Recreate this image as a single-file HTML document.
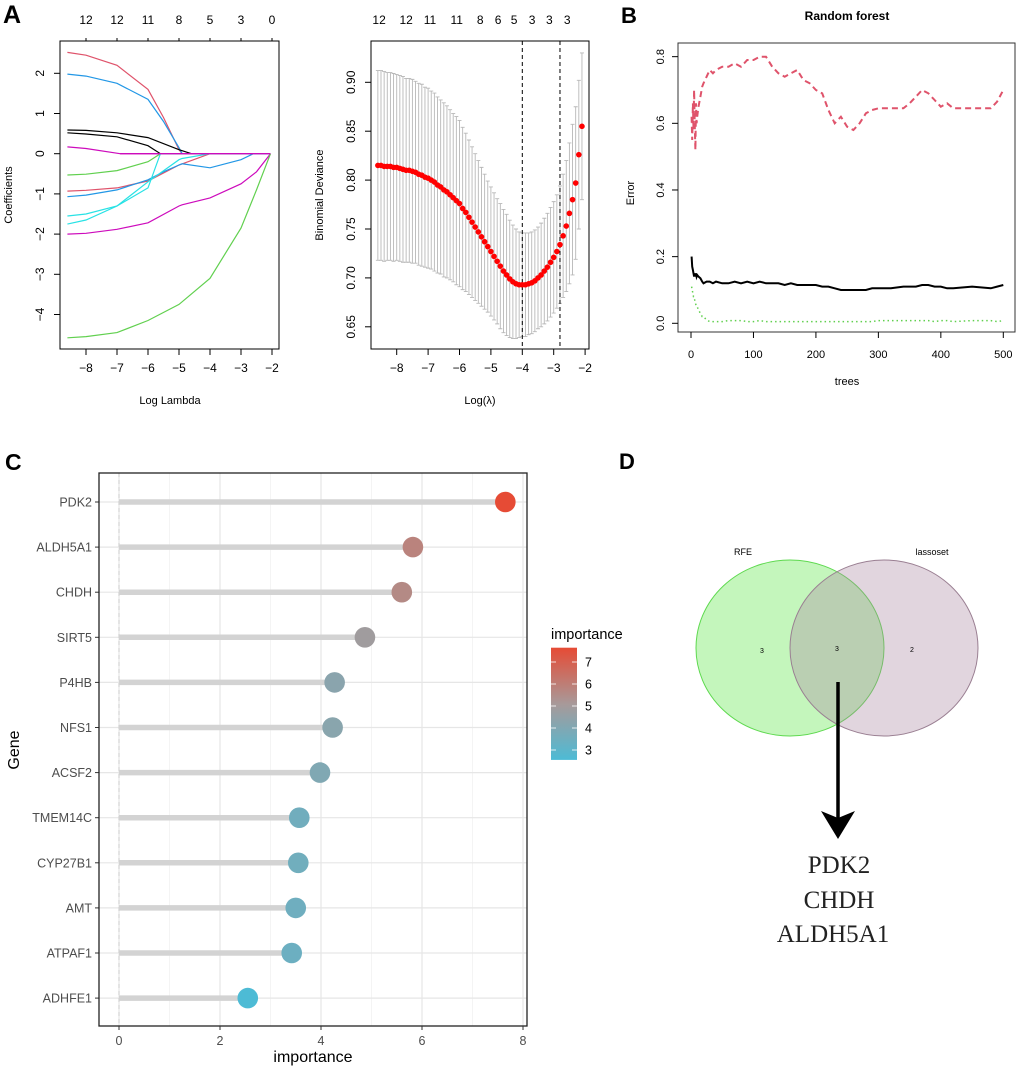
<!DOCTYPE html>
<html><head><meta charset="utf-8">
<style>
html,body{margin:0;padding:0;background:#fff;}
svg{display:block;font-family:"Liberation Sans",sans-serif;}
</style></head>
<body>
<svg id="fig" width="1020" height="1069" viewBox="0 0 1020 1069">
<text x="3" y="23" font-size="25" font-weight="bold">A</text>
<text x="621" y="23" font-size="22" font-weight="bold">B</text>
<text x="5" y="470" font-size="23" font-weight="bold">C</text>
<text x="619" y="469" font-size="22" font-weight="bold">D</text>
<g id="a1"></g>
<g id="a2"></g>
<g id="b"></g>
<g id="c"></g>
<g id="d">
  <ellipse cx="790" cy="648" rx="94" ry="88" fill="#7CEB6A" fill-opacity="0.45" stroke="#5ed94f" stroke-width="1"/>
  <ellipse cx="884" cy="648" rx="94" ry="88" fill="#a888a0" fill-opacity="0.35" stroke="#9a7f92" stroke-width="1"/>
  <text x="743" y="555" font-size="9" text-anchor="middle">RFE</text>
  <text x="932" y="555" font-size="9" text-anchor="middle">lassoset</text>
  <text x="762" y="653" font-size="7" text-anchor="middle">3</text>
  <text x="837" y="651" font-size="7" text-anchor="middle">3</text>
  <text x="912" y="652" font-size="7" text-anchor="middle">2</text>
  <line x1="838" y1="682" x2="838" y2="820" stroke="#000" stroke-width="3.5"/>
  <polygon points="821,811 838,818 855,811 838,839" fill="#000"/>
  <text x="839" y="873" font-size="25" text-anchor="middle" font-family="Liberation Serif,serif" fill="#222">PDK2</text>
  <text x="839" y="908" font-size="25" text-anchor="middle" font-family="Liberation Serif,serif" fill="#222">CHDH</text>
  <text x="833" y="942" font-size="25" text-anchor="middle" font-family="Liberation Serif,serif" fill="#222">ALDH5A1</text>
</g>
</svg>
<script>
// ---------- Panel A1 data: lasso coefficient paths ----------
const lassoPathColors = ["#DF536B","#2297E6","#000000","#000000","#CD0BBC","#61D04F","#DF536B","#2297E6","#28E2E5","#28E2E5","#CD0BBC","#61D04F"];
const lassoPathX = [
 [-8.6,-8,-7,-6,-5.5,-5,-4.9,-2.05],
 [-8.6,-8,-7,-6,-5.5,-5,-4.9,-2.05],
 [-8.6,-8,-7,-6,-5,-4.6,-2.05],
 [-8.6,-8,-7,-6,-5.6,-2.05],
 [-8.6,-8,-6.9,-2.05],
 [-8.6,-8,-7,-6,-5.6,-2.05],
 [-8.6,-8,-7,-6,-5,-4,-2.05],
 [-8.6,-8,-7,-6,-5.5,-5,-4.9,-4,-3,-2.6,-2.05],
 [-8.6,-8,-7,-6,-5.6,-2.05],
 [-8.6,-8,-7,-6,-5,-4.9,-4,-2.05],
 [-8.6,-8,-7,-6,-5,-4.9,-4,-3,-2.5,-2.05],
 [-8.6,-8,-7,-6,-5,-4,-3,-2.5,-2.05]
];
const lassoPathY = [
 [2.52,2.45,2.2,1.6,0.9,0.1,0,0],
 [1.98,1.93,1.75,1.35,0.8,0.15,0,0],
 [0.59,0.58,0.52,0.4,0.1,0,0],
 [0.52,0.49,0.42,0.2,0,0],
 [0.17,0.13,0,0],
 [-0.53,-0.51,-0.42,-0.2,0,0],
 [-0.93,-0.91,-0.85,-0.68,-0.28,0,0],
 [-1.07,-1.03,-0.9,-0.65,-0.45,-0.28,-0.25,-0.35,-0.15,0,0],
 [-1.55,-1.5,-1.3,-0.85,0,0],
 [-1.75,-1.65,-1.3,-0.7,-0.15,-0.12,0,0],
 [-2.0,-1.98,-1.88,-1.72,-1.3,-1.27,-1.1,-0.75,-0.45,0],
 [-4.58,-4.55,-4.45,-4.15,-3.75,-3.1,-1.85,-0.9,0]
];
const a1XTicks = [-8,-7,-6,-5,-4,-3,-2];
const a1YTicks = [-4,-3,-2,-1,0,1,2];
const a1TopLabels = ["12","12","11","8","5","3","0"];

// ---------- Panel A2 data: CV curve ----------
const cvStart = -8.6, cvStep = 0.1;
const cvMean = [.815,.815,.814,.814,.814,.813,.813,.812,.811,.810,.810,.809,.808,.806,.805,.803,.802,.800,.798,.795,.793,.790,.788,.785,.782,.779,.776,.771,.767,.762,.757,.752,.747,.742,.737,.732,.727,.722,.717,.712,.707,.703,.699,.696,.694,.693,.693,.693,.694,.695,.697,.700,.703,.707,.711,.716,.721,.727,.734,.743,.753,.766,.780,.797,.826,.855];
const cvSd = [.097,.097,.097,.096,.096,.096,.095,.095,.095,.094,.094,.094,.093,.093,.093,.092,.092,.091,.091,.090,.089,.089,.088,.087,.086,.086,.085,.083,.081,.079,.077,.075,.073,.071,.069,.067,.066,.065,.064,.064,.063,.062,.060,.058,.056,.054,.053,.053,.052,.052,.052,.052,.053,.054,.055,.056,.057,.058,.060,.063,.067,.072,.077,.078,.076,.075];
const cvVLines = [-4.0,-2.8];
const a2XTicks = [-8,-7,-6,-5,-4,-3,-2];
const a2YTicks = [0.65,0.70,0.75,0.80,0.85,0.90];
const a2TopPos = [-8.56,-7.7,-6.94,-6.09,-5.34,-4.77,-4.26,-3.69,-3.14,-2.57];
const a2TopLabels = ["12","12","11","11","8","6","5","3","3","3"];

// ---------- Panel B data: random forest error ----------
const rfTrees = [1,2,3,4,5,6,7,8,9,10,12,15,18,20,25,30,35,40,50,60,70,80,90,100,110,120,130,140,150,160,170,180,190,200,210,220,230,240,250,260,270,280,290,300,320,340,350,360,370,380,390,400,410,420,450,480,490,500];
const rfRed = [0.62,0.55,0.66,0.58,0.7,0.6,0.52,0.66,0.6,0.62,0.65,0.68,0.71,0.72,0.74,0.76,0.75,0.76,0.77,0.77,0.78,0.77,0.79,0.79,0.8,0.8,0.77,0.75,0.74,0.75,0.76,0.73,0.72,0.7,0.69,0.64,0.6,0.62,0.59,0.58,0.6,0.63,0.64,0.645,0.645,0.645,0.66,0.68,0.7,0.69,0.67,0.65,0.66,0.645,0.645,0.645,0.665,0.7];
const rfOob = [0.2,0.17,0.16,0.15,0.14,0.15,0.14,0.15,0.14,0.145,0.14,0.135,0.125,0.12,0.125,0.125,0.12,0.125,0.12,0.12,0.125,0.12,0.125,0.12,0.125,0.12,0.12,0.12,0.115,0.12,0.115,0.115,0.115,0.115,0.11,0.11,0.105,0.1,0.1,0.1,0.1,0.1,0.105,0.105,0.105,0.11,0.11,0.11,0.115,0.115,0.11,0.11,0.105,0.105,0.11,0.105,0.11,0.115];
const rfGreen = [0.11,0.1,0.09,0.08,0.08,0.07,0.06,0.055,0.05,0.05,0.04,0.03,0.02,0.02,0.01,0.005,0.005,0.005,0.005,0.008,0.008,0.008,0.005,0.005,0.008,0.005,0.005,0.005,0.005,0.005,0.005,0.005,0.005,0.005,0.005,0.005,0.005,0.005,0.005,0.005,0.005,0.005,0.005,0.008,0.008,0.008,0.008,0.008,0.008,0.008,0.005,0.008,0.008,0.005,0.008,0.008,0.005,0.008];
const bXTicks = [0,100,200,300,400,500];
const bYTicks = [0,0.2,0.4,0.6,0.8];

// ---------- Panel C data: gene importance ----------
const genes = ["PDK2","ALDH5A1","CHDH","SIRT5","P4HB","NFS1","ACSF2","TMEM14C","CYP27B1","AMT","ATPAF1","ADHFE1"];
const importance = [7.65,5.82,5.6,4.87,4.27,4.23,3.98,3.57,3.55,3.5,3.42,2.55];
const cXTicks = [0,2,4,6,8];
const legendTicks = [3,4,5,6,7];

const NS = "http://www.w3.org/2000/svg";
function mk(parent, tag, attrs){const e=document.createElementNS(NS,tag);for(const k in attrs)e.setAttribute(k,attrs[k]);parent.appendChild(e);return e;}
function txt(parent, x, y, s, size, extra){const e=mk(parent,"text",Object.assign({x:x,y:y,"font-size":size},extra||{}));e.textContent=s;return e;}

// ===== A1 =====
(function(){
 const g=document.getElementById("a1");
 const L=60,R=279,T=41,B=349;
 const sx=v=>86+(v+8)*31, sy=v=>153.7-v*40.2;
 lassoPathX.forEach((xs,i)=>{
  const d=xs.map((x,j)=>(j?"L":"M")+sx(x).toFixed(1)+","+sy(lassoPathY[i][j]).toFixed(1)).join(" ");
  const p=mk(g,"path",{d:d,fill:"none",stroke:lassoPathColors[i],"stroke-width":1.2});
  
  
 });
 const z=mk(g,"line",{x1:sx(-6.9),y1:sy(0),x2:sx(-2.05),y2:sy(0),stroke:"#CD0BBC","stroke-width":1.3});
 
 
 mk(g,"rect",{x:L,y:T,width:R-L,height:B-T,fill:"none",stroke:"#000","stroke-width":1});
 a1XTicks.forEach(v=>{
  mk(g,"line",{x1:sx(v),y1:B,x2:sx(v),y2:B+6,stroke:"#000"});
  const t=txt(g,sx(v),372,"\u2212"+Math.abs(v),12,{"text-anchor":"middle"});
  
  
  mk(g,"line",{x1:sx(v),y1:T,x2:sx(v),y2:T-3,stroke:"#000"});
 });
 a1TopLabels.forEach((s,i)=>{
  const t=txt(g,sx(a1XTicks[i]),24,s,12,{"text-anchor":"middle"});
  
  
 });
 a1YTicks.forEach(v=>{
  mk(g,"line",{x1:L,y1:sy(v),x2:L-6,y2:sy(v),stroke:"#000"});
  const s=(v<0?"\u2212":"")+Math.abs(v);
  const t=txt(g,44,sy(v),s,12,{"text-anchor":"middle",transform:`rotate(-90 44 ${sy(v)})`});
  
  
 });
 txt(g,170,404,"Log Lambda",11,{"text-anchor":"middle",});
 txt(g,12,195,"Coefficients",11,{"text-anchor":"middle",transform:"rotate(-90 12 195)",});
})();

// ===== A2 =====
(function(){
 const g=document.getElementById("a2");
 const L=371,R=589,T=41,B=349;
 const sx=v=>396.7+(v+8)*31.4, sy=v=>82.3+(0.90-v)/0.05*48.9;
 cvMean.forEach((m,i)=>{
  const x=sx(cvStart+i*cvStep), hi=sy(m+cvSd[i]), lo=sy(m-cvSd[i]);
  const e=mk(g,"path",{d:`M${x},${hi}L${x},${lo}M${x-2},${hi}L${x+2},${hi}M${x-2},${lo}L${x+2},${lo}`,stroke:"#b8b8b8","stroke-width":0.9,fill:"none"});
  
  
 });
 cvVLines.forEach(v=>{
  const l=mk(g,"line",{x1:sx(v),y1:T,x2:sx(v),y2:B,stroke:"#000","stroke-dasharray":"4,3","stroke-width":1});
  
  
 });
 cvMean.forEach((m,i)=>{
  const c=mk(g,"circle",{cx:sx(cvStart+i*cvStep),cy:sy(m),r:2.8,fill:"#ff0000"});
  
  
 });
 mk(g,"rect",{x:L,y:T,width:R-L,height:B-T,fill:"none",stroke:"#000","stroke-width":1});
 a2XTicks.forEach(v=>{
  mk(g,"line",{x1:sx(v),y1:B,x2:sx(v),y2:B+6,stroke:"#000"});
  const t=txt(g,sx(v),372,"\u2212"+Math.abs(v),12,{"text-anchor":"middle"});
  
  
 });
 a2TopLabels.forEach((s,i)=>{
  const t=txt(g,sx(a2TopPos[i]),24,s,12,{"text-anchor":"middle"});
  
  
 });
 a2YTicks.forEach(v=>{
  mk(g,"line",{x1:L,y1:sy(v),x2:L-6,y2:sy(v),stroke:"#000"});
  const t=txt(g,355,sy(v),v.toFixed(2),12,{"text-anchor":"middle",transform:`rotate(-90 355 ${sy(v)})`});
  
  
 });
 txt(g,480,404,"Log(\u03bb)",11,{"text-anchor":"middle",});
 txt(g,323,195,"Binomial Deviance",11,{"text-anchor":"middle",transform:"rotate(-90 323 195)",});
})();

// ===== B =====
(function(){
 const g=document.getElementById("b");
 const L=678,R=1015,T=43,B=332;
 const sx=v=>691+v*0.6246, sy=v=>323.3-v/0.1*33.33;
 function line(arr,color,dash,w,name){
  const d=rfTrees.map((t,i)=>(i?"L":"M")+sx(t).toFixed(1)+","+sy(arr[i]).toFixed(1)).join(" ");
  const p=mk(g,"path",{d:d,fill:"none",stroke:color,"stroke-width":w,"stroke-dasharray":dash});
  
  
 }
 line(rfRed,"#DF536B","6,4",2,"class1-error-line");
 line(rfOob,"#000","none",2,"oob-error-line");
 line(rfGreen,"#61D04F","1.5,3",1.5,"class2-error-line");
 mk(g,"rect",{x:L,y:T,width:R-L,height:B-T,fill:"none",stroke:"#333","stroke-width":1});
 bXTicks.forEach(v=>{
  mk(g,"line",{x1:sx(v),y1:B,x2:sx(v),y2:B+6,stroke:"#000"});
  const t=txt(g,sx(v),358,String(v),11,{"text-anchor":"middle"});
  
  
 });
 bYTicks.forEach(v=>{
  mk(g,"line",{x1:L,y1:sy(v),x2:L-6,y2:sy(v),stroke:"#000"});
  const t=txt(g,664,sy(v),v.toFixed(1),11,{"text-anchor":"middle",transform:`rotate(-90 664 ${sy(v)})`});
  
  
 });
 txt(g,847,20,"Random forest",12,{"text-anchor":"middle","font-weight":"bold",});
 txt(g,847,385,"trees",11,{"text-anchor":"middle",});
 txt(g,634,193,"Error",11,{"text-anchor":"middle",transform:"rotate(-90 634 193)",});
})();

// ===== C =====
(function(){
 const g=document.getElementById("c");
 const L=99,R=527,T=473,B=1026;
 const sx=v=>119+v*50.5, sy=i=>502+i*45.1;
 function col(v){
  const stops=[[2.55,[77,187,213]],[5.1,[168,153,153]],[7.65,[230,75,53]]];
  let a=stops[0],b=stops[1]; if(v>5.1){a=stops[1];b=stops[2];}
  const t=Math.max(0,Math.min(1,(v-a[0])/(b[0]-a[0])));
  const c=a[1].map((x,k)=>Math.round(x+(b[1][k]-x)*t));
  return `rgb(${c[0]},${c[1]},${c[2]})`;
 }
 [1,3,5,7].forEach(v=>mk(g,"line",{x1:sx(v),y1:T,x2:sx(v),y2:B,stroke:"#f2f2f2","stroke-width":0.8}));
 cXTicks.forEach(v=>mk(g,"line",{x1:sx(v),y1:T,x2:sx(v),y2:B,stroke:"#e6e6e6","stroke-width":1.2}));
 genes.forEach((n,i)=>mk(g,"line",{x1:L,y1:sy(i),x2:R,y2:sy(i),stroke:"#e6e6e6","stroke-width":1.2}));
 mk(g,"line",{x1:sx(0),y1:T,x2:sx(0),y2:B,stroke:"#cfcfcf","stroke-dasharray":"4,3","stroke-width":1});
 genes.forEach((n,i)=>{
  const s=mk(g,"line",{x1:sx(0),y1:sy(i),x2:sx(importance[i]),y2:sy(i),stroke:"#d3d3d3","stroke-width":5.5});
  
  
  const c=mk(g,"circle",{cx:sx(importance[i]),cy:sy(i),r:10.3,fill:col(importance[i])});
  
  
  mk(g,"line",{x1:L,y1:sy(i),x2:L-4,y2:sy(i),stroke:"#333"});
  const t=txt(g,L-7,sy(i)+4.5,n,12.5,{"text-anchor":"end",fill:"#4d4d4d"});
  
  
 });
 mk(g,"rect",{x:L,y:T,width:R-L,height:B-T,fill:"none",stroke:"#222","stroke-width":1.3});
 cXTicks.forEach(v=>{
  mk(g,"line",{x1:sx(v),y1:B,x2:sx(v),y2:B+4,stroke:"#333"});
  const t=txt(g,sx(v),1045,String(v),12.5,{"text-anchor":"middle",fill:"#4d4d4d"});
  
  
 });
 txt(g,313,1062,"importance",16,{"text-anchor":"middle",});
 txt(g,19,750,"Gene",16,{"text-anchor":"middle",transform:"rotate(-90 19 750)",});
 // legend
 const defs=mk(g,"defs",{});
 const lg=mk(defs,"linearGradient",{id:"impgrad",x1:0,y1:1,x2:0,y2:0});
 mk(lg,"stop",{offset:"0",  "stop-color":col(2.55)});
 mk(lg,"stop",{offset:"0.5","stop-color":col(5.1)});
 mk(lg,"stop",{offset:"1",  "stop-color":col(7.65)});
 const ly=v=>647.7+(7.65-v)*22;
 const bar=mk(g,"rect",{x:551,y:ly(7.65),width:26,height:ly(2.55)-ly(7.65),fill:"url(#impgrad)"});
 
 
 legendTicks.forEach(v=>{
  mk(g,"line",{x1:551,y1:ly(v),x2:556,y2:ly(v),stroke:"#fff","stroke-width":0.8});
  mk(g,"line",{x1:572,y1:ly(v),x2:577,y2:ly(v),stroke:"#fff","stroke-width":0.8});
  const t=txt(g,585,ly(v)+4.5,String(v),12.5);
  
  
 });
 txt(g,551,639,"importance",14.5,{});
})();
</script>
</body></html>
